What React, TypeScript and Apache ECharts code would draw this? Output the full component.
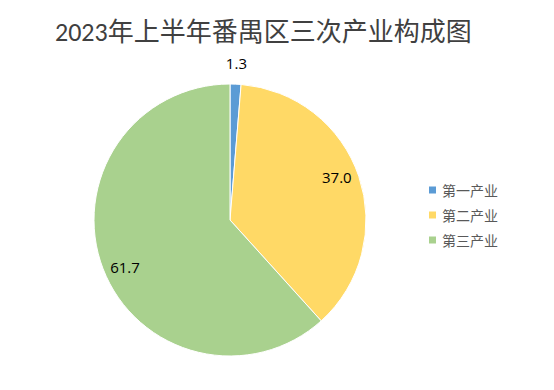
import React, { useEffect, useRef } from "react";
import * as echarts from "echarts";

const categories = ["第一产业", "第二产业", "第三产业"];
const values = [1.3, 37.0, 61.7];
const colors = ["#5B9BD5", "#FFD966", "#A9D18E"];
const titleText = "2023年上半年番禺区三次产业构成图";

export default function App() {
  const ref = useRef<HTMLDivElement>(null);
  useEffect(() => {
    if (!ref.current) return;
    const chart = echarts.init(ref.current, null, { renderer: "svg" });
    const baseData = categories.map((name, i) => ({ name, value: values[i] }));
    const center = [230, 220];
    const labelStyle = {
      show: true,
      position: "inside",
      rotate: 0,
      fontFamily: "'Open Sans', 'Noto Sans', sans-serif",
      fontSize: 15,
      color: "#000000",
    };
    chart.setOption({
      animation: false,
      backgroundColor: "#ffffff",
      color: colors,
      title: {
        text: titleText,
        left: 50,
        top: 14,
        textStyle: {
          fontFamily: "Calibri, 'Noto Sans CJK SC', sans-serif",
          fontSize: 26,
          fontWeight: "normal",
          color: "#404040",
        },
      },
      legend: {
        orient: "vertical",
        left: 422,
        top: 178,
        itemWidth: 9,
        itemHeight: 9,
        itemGap: 11,
        icon: "rect",
        data: categories,
        textStyle: {
          fontFamily: "'Noto Sans CJK SC', sans-serif",
          fontSize: 14,
          color: "#595959",
        },
      },
      series: [
        {
          type: "pie",
          center,
          radius: [0, 136],
          startAngle: 90,
          clockwise: true,
          label: { show: false },
          labelLine: { show: false },
          itemStyle: { borderColor: "#ffffff", borderWidth: 1 },
          data: baseData,
        },
        {
          type: "pie",
          center,
          radius: [0, 224],
          startAngle: 93,
          silent: true,
          legendHoverLink: false,
          itemStyle: { color: "rgba(0,0,0,0)" },
          label: {
            ...labelStyle,
            formatter: (p: any) => (p.dataIndex === 0 ? "" : p.value.toFixed(1)),
          },
          labelLine: { show: false },
          data: baseData,
        },
        {
          type: "pie",
          center,
          radius: [0, 308],
          startAngle: 90,
          silent: true,
          legendHoverLink: false,
          itemStyle: { color: "rgba(0,0,0,0)" },
          label: {
            ...labelStyle,
            formatter: (p: any) => (p.dataIndex === 0 ? p.value.toFixed(1) : ""),
          },
          labelLine: { show: false },
          data: baseData,
        },
      ],
    });
    return () => chart.dispose();
  }, []);
  return (
    <div
      ref={ref}
      style={{ position: "fixed", left: 0, top: 0, width: 554, height: 390 }}
    />
  );
}
